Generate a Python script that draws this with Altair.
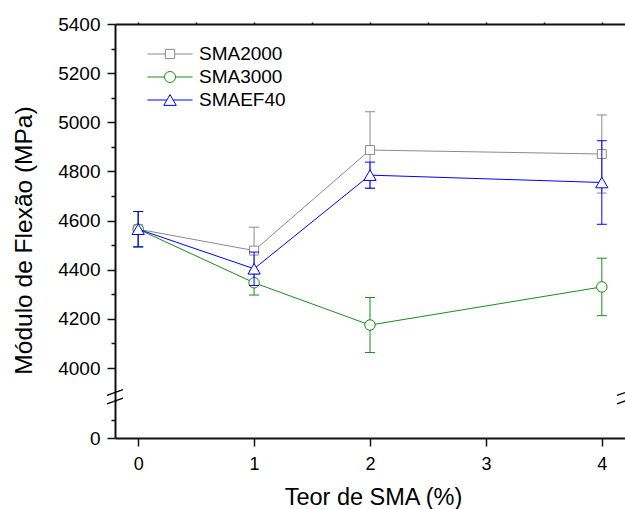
import altair as alt
import pandas as pd

# Teor de SMA (%) e módulo de flexão (MPa) com desvio padrão
teor = [0, 1, 2, 4]
series = ["SMA2000", "SMA3000", "SMAEF40"]

sma2000 = [4565, 4478, 4887, 4871]
sma2000_err = [72, 95, 156, 159]
sma3000 = [4565, 4347, 4175, 4330]
sma3000_err = [72, 50, 112, 117]
smaef40 = [4565, 4404, 4785, 4755]
smaef40_err = [72, 68, 53, 170]

x_ticks = [0, 0.5, 1, 1.5, 2, 2.5, 3, 3.5, 4]
y_ticks = [0, 100] + list(range(4000, 5401, 100))

# broken axis: lower segment 0-200, upper segment 3900-5400
x_min, x_max = -0.2, 4.2
break_lo, break_hi = 200, 3900

colors = ["#8a8a8a", "#1a8c1a", "#0000ff"]
shapes = ["square", "circle", "triangle-up"]
sizes = [80, 110, 150]
# legend glyphs: line stub + open marker
legend_paths = [
    "M-1.84,0H-0.38M0.38,0H1.84M-0.38,-0.38H0.38V0.38H-0.38Z",
    "M-1.84,0H-0.45M0.45,0H1.84M-0.45,0A0.45,0.45,0,1,0,0.45,0A0.45,0.45,0,1,0,-0.45,0Z",
    "M-1.84,0H-0.26M0.26,0H1.84M0,-0.44L0.51,0.44H-0.51Z",
]

FONT = "Liberation Sans"
W, H = 510, 414

values = {"SMA2000": sma2000, "SMA3000": sma3000, "SMAEF40": smaef40}
errors = {"SMA2000": sma2000_err, "SMA3000": sma3000_err, "SMAEF40": smaef40_err}

rows = []
for s in series:
    for t, v, e in zip(teor, values[s], errors[s]):
        rows.append({"serie": s, "teor": t, "val": v, "lo": v - e, "hi": v + e})
df = pd.DataFrame(rows)

x_scale = alt.Scale(domain=[x_min, x_max], nice=False, zero=False)
y_scale = alt.Scale(
    domain=[0, break_lo, break_hi, 5400],
    range=[H, 377, 368.6, 0],
    nice=False,
    zero=False,
)

y_axis = alt.Axis(
    values=y_ticks,
    format="d",
    labelExpr="datum.value % 200 === 0 ? datum.label : ''",
    tickSize={"condition": {"test": "datum.value % 200 === 0", "value": 8}, "value": 4},
    labelPadding=7,
    labelFontSize=19,
    title="Módulo de Flexão (MPa)",
    titleFontSize=24.5,
    titleX=-84,
    titleY=216,
    titleAlign="center",
    titleBaseline="alphabetic",
    domainWidth=2,
    tickWidth=1.5,
)

x_axis_bottom = alt.Axis(
    values=x_ticks,
    format="d",
    labelExpr="datum.value % 1 === 0 ? datum.label : ''",
    tickSize={"condition": {"test": "datum.value % 1 === 0", "value": 8}, "value": 4},
    labelPadding=9,
    labelFontSize=18,
    title="Teor de SMA (%)",
    titleFontSize=23.5,
    titleX=258,
    titleY=66,
    titleAlign="center",
    titleBaseline="alphabetic",
    domainWidth=2,
    tickWidth=1.5,
)

x_axis_top = alt.Axis(
    orient="top",
    values=x_ticks,
    labels=False,
    tickSize=2,
    title=None,
    domainWidth=2,
    tickWidth=1.5,
)


def X(axis=None):
    return alt.X("teor:Q", scale=x_scale, axis=axis)


def Y(field):
    return alt.Y(f"{field}:Q", scale=y_scale, axis=y_axis)


layers = []
first = True
for s, c, shp, sz in zip(series, colors, shapes, sizes):
    base = alt.Chart(df).transform_filter(alt.datum.serie == s)
    line = base.mark_line(color=c, strokeWidth=1).encode(
        x=X(x_axis_bottom if first else None), y=Y("val")
    )
    first = False
    bar = base.mark_rule(color=c, strokeWidth=1).encode(x=X(), y=Y("lo"), y2="hi")
    cap_lo = base.mark_tick(color=c, orient="horizontal", size=10, thickness=1, opacity=1).encode(
        x=X(), y=Y("lo")
    )
    cap_hi = base.mark_tick(color=c, orient="horizontal", size=10, thickness=1, opacity=1).encode(
        x=X(), y=Y("hi")
    )
    pts = base.mark_point(
        shape=shp, size=sz, filled=True, fill="white", stroke=c, strokeWidth=1, opacity=1
    ).encode(x=X(), y=Y("val"))
    layers += [line, bar, cap_lo, cap_hi, pts]

# axis break marks on both vertical axes
breaks = pd.DataFrame(
    {"teor": [x_min, x_min, x_max, x_max], "val": [break_hi, break_lo, break_hi, break_lo]}
)
break_marks = alt.Chart(breaks).mark_point(
    shape="M-1,0.36L1,-0.36", size=256, filled=False, stroke="black", strokeWidth=1.3, opacity=1
).encode(x=X(x_axis_top), y=Y("val"))
layers.append(break_marks)

# legend carrier (invisible points)
leg_df = df[df["teor"] == 0]
legend_cfg = alt.Legend(
    title=None,
    orient="none",
    legendX=42,
    legendY=17,
    labelFont=FONT,
    labelFontSize=19,
    labelColor="black",
    labelOffset=16,
    symbolSize=600,
    symbolStrokeWidth=1,
    symbolOpacity=1,
    rowPadding=0,
    padding=0,
)
legend_layer = alt.Chart(leg_df).mark_point(opacity=0, size=600, strokeWidth=1).encode(
    x=X(),
    y=Y("val"),
    color=alt.Color("serie:N", scale=alt.Scale(domain=series, range=colors), legend=legend_cfg),
    shape=alt.Shape("serie:N", scale=alt.Scale(domain=series, range=legend_paths), legend=legend_cfg),
)
layers.append(legend_layer)

chart = (
    alt.layer(*layers)
    .resolve_axis(x="independent")
    .properties(
        width=W,
        height=H,
        autosize=alt.AutoSizeParams(type="none"),
        padding={"left": 115, "top": 24, "right": 0, "bottom": 71},
        background="white",
    )
    .configure_axis(
        labelFont=FONT,
        titleFont=FONT,
        labelColor="black",
        titleColor="black",
        domainColor="#111111",
        tickColor="#111111",
        grid=False,
        titleFontWeight="normal",
    )
    .configure_view(stroke=None)
)

chart.save("out.html", embed_options={"renderer": "svg", "actions": False})
